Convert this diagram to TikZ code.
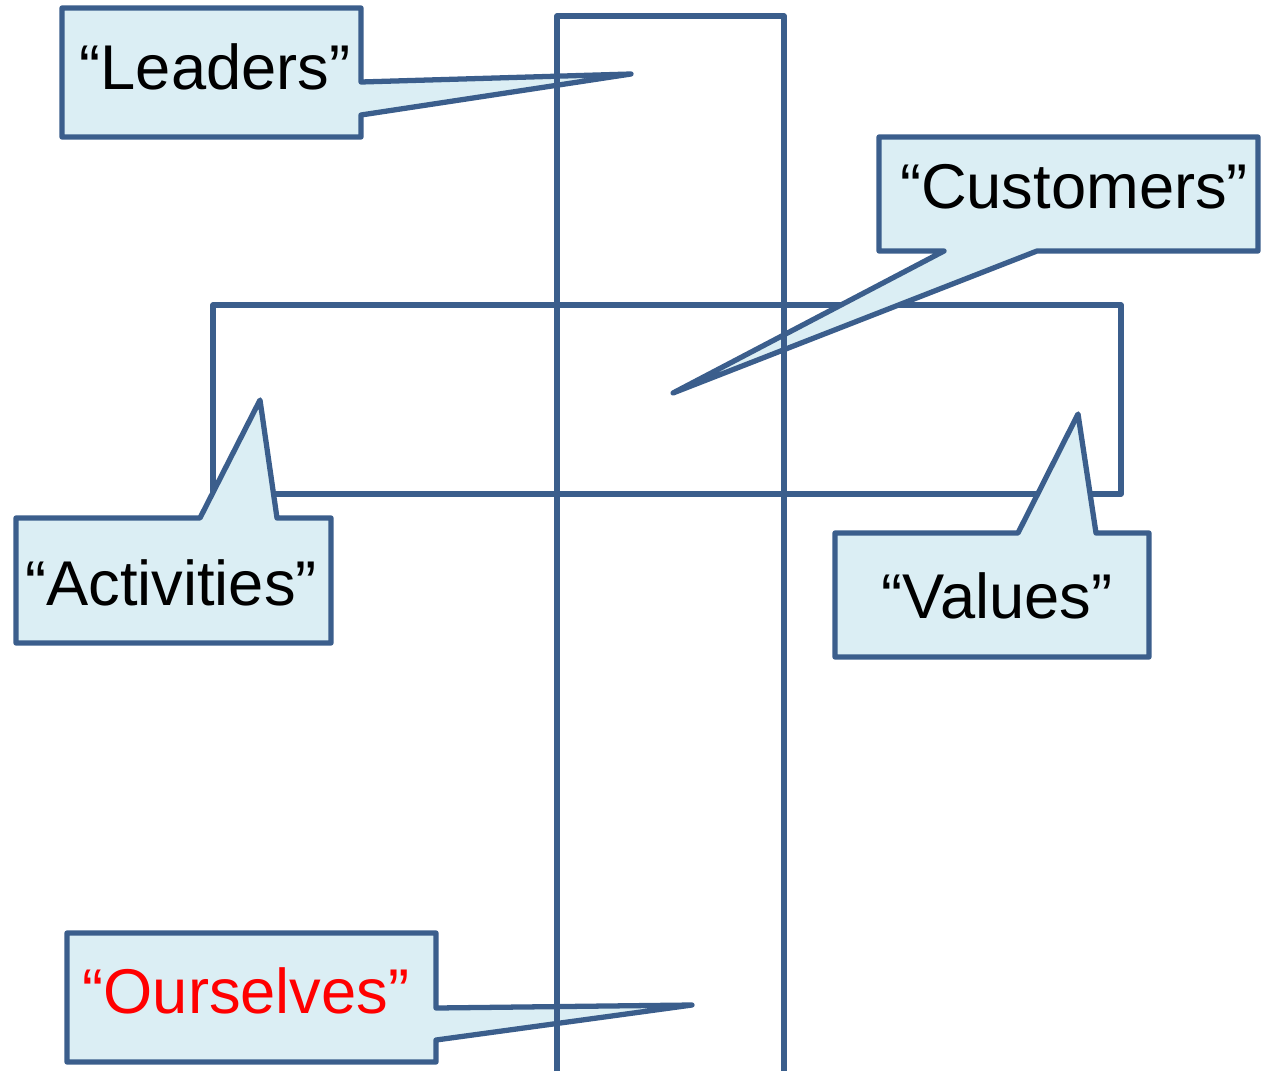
\documentclass[tikz,border=0pt]{standalone}
\usepackage{fontspec}
\setmainfont{Liberation Sans}
\definecolor{frameblue}{HTML}{3B5E8C}
\definecolor{calloutfill}{HTML}{DBEEF4}
\tikzset{
  bar/.style={draw=frameblue,line width=3pt,line join=round},
  callout/.style={draw=frameblue,fill=calloutfill,line width=3pt,line join=round},
  word/.style={font=\fontsize{36}{40}\selectfont,inner sep=0pt,anchor=base},
}
\begin{document}
\begin{tikzpicture}[x=0.02cm,y=-0.02cm]
\useasboundingbox (0,0) rectangle (1266,1071);
% the horizontal frame
\draw[bar] (213,305) rectangle (1121,494);
% where the callouts point
\coordinate (leaders tip) at (631,74);
\coordinate (customers tip) at (673,393);
\coordinate (activities tip) at (260,400);
\coordinate (values tip) at (1078,414);
\coordinate (ourselves tip) at (692,1005);
% the callouts
\draw[callout] (62,8) -- (361,8) -- (361,82) -- (leaders tip) -- (361,115) -- (361,137) -- (62,137) -- cycle;
\node[word] (leaders) at (215,90) {“Leaders”};
\draw[callout] (879,137) -- (1258,137) -- (1258,251) -- (1037,251) -- (customers tip) -- (944,251) -- (879,251) -- cycle;
\node[word] (customers) at (1074,208) {“Customers”};
\draw[callout] (16,518) -- (200,518) -- (activities tip) -- (277,518) -- (331,518) -- (331,643) -- (16,643) -- cycle;
\node[word] (activities) at (171,605) {“Activities”};
\draw[callout] (835,533) -- (1018,533) -- (values tip) -- (1096,533) -- (1149,533) -- (1149,657) -- (835,657) -- cycle;
\node[word] (values) at (997,618) {“Values”};
\draw[callout] (67,933) -- (436,933) -- (436,1008) -- (ourselves tip) -- (436,1040) -- (436,1062) -- (67,1062) -- cycle;
\node[word,text=red] (ourselves) at (246,1013) {“Ourselves”};
% the vertical frame, open at the bottom
\draw[bar] (557,1071) -- (557,16) -- (784,16) -- (784,1071);
\end{tikzpicture}
\end{document}
